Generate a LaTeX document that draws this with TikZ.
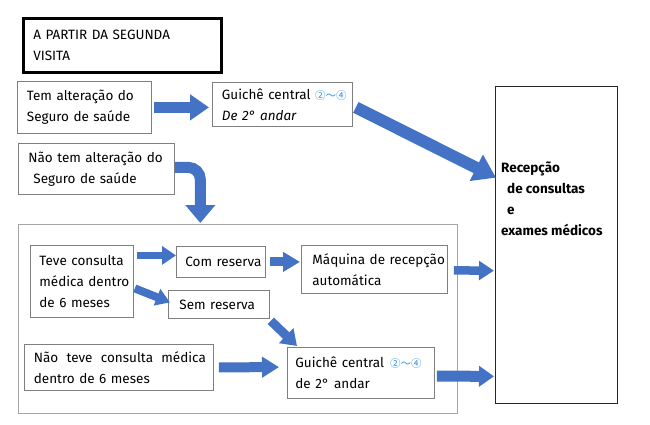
\documentclass[tikz,border=0pt]{standalone}
\usepackage{fontspec}
\setmainfont{Fira Sans}
\newfontfamily\cjk{Noto Sans CJK JP}
\usetikzlibrary{arrows.meta}
\definecolor{arrowblue}{HTML}{4472C4}
\definecolor{boxgray}{HTML}{7F7F7F}
\definecolor{outergray}{HTML}{A6A6A6}
\definecolor{cblue}{HTML}{2E8BE0}
\newcommand{\circnums}{\textcolor{cblue}{\cjk\fontsize{10.5}{12}\selectfont ②～④}}
\tikzset{
  box/.style={draw=boxgray, line width=0.8pt, inner ysep=0pt, anchor=north west, align=left,
    font=\fontsize{13.5}{21}\selectfont},
  barrow/.style args={#1/#2/#3}{draw=arrowblue, line width=#1pt,
    -{Triangle[length=#3pt, width=#2pt]}},
}
\begin{document}
\begin{tikzpicture}[x=1pt,y=-1pt]
\useasboundingbox (0,0) rectangle (650,425);
% boxes
\node[box, draw=black, line width=2.6pt, minimum width=198pt, minimum height=54pt,
      inner xsep=10pt, text width=178pt] (title) at (22,17) {\mbox{A PARTIR DA SEGUNDA}\\VISITA};
\node[box, minimum width=134pt, minimum height=52pt, inner xsep=9.5pt, text width=115pt]
      (tem) at (17,81) {\mbox{Tem alteração do}\\\mbox{Seguro de saúde}};
\node[box, minimum width=140pt, minimum height=44pt, inner xsep=9.5pt, text width=121pt]
      (g1) at (212,82) {\mbox{Guichê central \circnums}\\\mbox{\itshape De 2° andar}};
\node[box, draw=black!85, line width=1.3pt, minimum width=122pt, minimum height=317pt]
      (rec) at (495,86) {};
\node[anchor=north west, inner sep=0pt, align=left, font=\bfseries\fontsize{13.5}{21}\selectfont]
      (rectext) at (501,162) {Recepção\\\hspace*{6pt}de consultas\\\hspace*{6pt}e\\exames médicos};
\node[box, minimum width=156pt, minimum height=51pt, inner xsep=10pt, text width=136pt]
      (nao) at (18,143) {\mbox{Não tem alteração do}\\\mbox{\hspace*{5pt}Seguro de saúde}};
\node[box, draw=outergray, minimum width=439pt, minimum height=189pt] (outer) at (18,224) {};
\node[box, minimum width=103pt, minimum height=72pt, inner xsep=9pt, text width=85pt]
      (teve) at (30,245) {\mbox{Teve consulta}\\\mbox{médica dentro}\\\mbox{de 6 meses}};
\node[box, minimum width=89pt, minimum height=31pt, inner xsep=9pt, text width=71pt]
      (com) at (176,246) {\mbox{Com reserva}};
\node[box, minimum width=146pt, minimum height=48pt, inner xsep=11pt, text width=124pt]
      (maq) at (301,245) {\mbox{Máquina de recepção}\\\mbox{automática}};
\node[box, minimum width=101pt, minimum height=28pt, inner xsep=11pt, text width=79pt]
      (sem) at (168,290) {\mbox{Sem reserva}};
\node[box, minimum width=189pt, minimum height=46pt, inner xsep=9.5pt, text width=170pt]
      (naoteve) at (24,344) {\makebox[172pt][s]{Não\hfill teve\hfill consulta\hfill médica}\\\mbox{dentro de 6 meses}};
\node[box, minimum width=147pt, minimum height=51pt, inner xsep=8pt, text width=131pt]
      (g2) at (287,347) {\mbox{Guichê central\hspace{6pt}\circnums}\\\mbox{de 2°\hspace{5pt}andar}};
% arrows
\draw[barrow=11/25/19] ([shift={(2,0)}]tem.east) -- ([shift={(-3,3)}]g1.west);
\draw[barrow=12/28/22] ([shift={(3,3)}]g1.east) -- ([shift={(1,-67.5)}]rec.west);
\coordinate (curveend) at (200.3,223);
\draw[barrow=11/29/18, rounded corners=12pt] ([yshift=1.5pt]nao.east) -| (curveend);
\draw[barrow=7.5/18/14] ([shift={(3,-26)}]teve.east) -- ([shift={(0,-6.5)}]com.west);
\draw[barrow=9/19/17] ([shift={(4,0)}]com.east) -- ([shift={(-1,-7.5)}]maq.west);
\draw[barrow=8.5/18.5/15] ([shift={(6,1)}]maq.east) -- ([shift={(-1,25.5)}]rec.west);
\draw[barrow=8/17/14] ([shift={(1,7)}]teve.east) -- ([shift={(2,-2)}]sem.west);
\draw[barrow=9/20/15] ([shift={(1,2)}]sem.south east) -- ([shift={(10,-1)}]g2.north west);
\draw[barrow=10/20/17] ([shift={(5,0)}]naoteve.east) -- ([shift={(-8,-5.8)}]g2.west);
\draw[barrow=11/20/15] ([shift={(2,3.2)}]g2.east) -- ([shift={(-1,131.2)}]rec.west);
\end{tikzpicture}
\end{document}
